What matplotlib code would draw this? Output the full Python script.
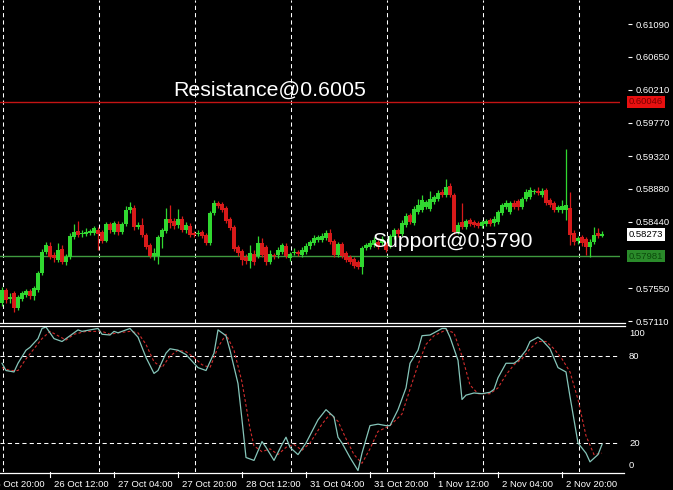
import numpy as np
import matplotlib
matplotlib.use('Agg')
import matplotlib.pyplot as plt
from matplotlib.lines import Line2D
from matplotlib.transforms import blended_transform_factory as btf

plt.rcParams['font.family'] = ['Liberation Sans', 'DejaVu Sans']

# ---------------- data ----------------
opens = [0.57352, 0.57526, 0.57405, 0.57486, 0.57285, 0.57405, 0.57459, 0.57513, 0.57446, 0.57526,
         0.57754, 0.58035, 0.58116, 0.57995, 0.57928, 0.58075, 0.57901, 0.57968, 0.58236, 0.58317,
         0.58276, 0.58276, 0.58290, 0.58290, 0.58330, 0.58303, 0.58183, 0.58410, 0.58303, 0.58410,
         0.58303, 0.58410, 0.58598, 0.58625, 0.58370, 0.58397, 0.58263, 0.58129, 0.57982, 0.57982,
         0.58236, 0.58317, 0.58477, 0.58451, 0.58397, 0.58477, 0.58330, 0.58384, 0.58290, 0.58276,
         0.58303, 0.58263, 0.58156, 0.58558, 0.58692, 0.58678, 0.58625, 0.58477, 0.58370, 0.58102,
         0.58049, 0.57968, 0.57915, 0.58008, 0.57982, 0.58156, 0.58102, 0.57901, 0.57995, 0.57995,
         0.58035, 0.58116, 0.57955, 0.58022, 0.58035, 0.57995, 0.58035, 0.58116, 0.58156, 0.58196,
         0.58196, 0.58223, 0.58290, 0.58183, 0.57995, 0.58142, 0.58022, 0.57968, 0.57941, 0.57901,
         0.57834, 0.58089, 0.58102, 0.58129, 0.58169, 0.58156, 0.58129, 0.58116, 0.58236, 0.58330,
         0.58276, 0.58397, 0.58531, 0.58424, 0.58571, 0.58598, 0.58638, 0.58611, 0.58705, 0.58745,
         0.58839, 0.58799, 0.58920, 0.58799, 0.58303, 0.58437, 0.58370, 0.58464, 0.58437, 0.58424,
         0.58384, 0.58410, 0.58464, 0.58424, 0.58437, 0.58558, 0.58638, 0.58571, 0.58692, 0.58719,
         0.58638, 0.58745, 0.58772, 0.58839, 0.58853, 0.58799, 0.58866, 0.58732, 0.58692, 0.58598,
         0.58598, 0.58598, 0.58625, 0.58290, 0.58183, 0.58236, 0.58209, 0.58102, 0.58169, 0.58290,
         0.58250]
highs = [0.57567, 0.57553, 0.57486, 0.57513, 0.57459, 0.57513, 0.57540, 0.57540, 0.57580, 0.57781,
         0.58075, 0.58169, 0.58169, 0.58035, 0.58156, 0.58129, 0.58008, 0.58290, 0.58410, 0.58451,
         0.58330, 0.58357, 0.58343, 0.58384, 0.58370, 0.58330, 0.58437, 0.58437, 0.58451, 0.58451,
         0.58437, 0.58652, 0.58705, 0.58665, 0.58437, 0.58491, 0.58290, 0.58156, 0.58089, 0.58263,
         0.58357, 0.58625, 0.58665, 0.58491, 0.58611, 0.58518, 0.58437, 0.58424, 0.58317, 0.58330,
         0.58330, 0.58290, 0.58585, 0.58732, 0.58719, 0.58705, 0.58652, 0.58504, 0.58397, 0.58129,
         0.58075, 0.58008, 0.58129, 0.58062, 0.58250, 0.58223, 0.58129, 0.58062, 0.58022, 0.58102,
         0.58156, 0.58156, 0.58035, 0.58089, 0.58062, 0.58102, 0.58156, 0.58196, 0.58263, 0.58263,
         0.58290, 0.58330, 0.58343, 0.58209, 0.58169, 0.58169, 0.58049, 0.57995, 0.57968, 0.57928,
         0.58116, 0.58156, 0.58196, 0.58236, 0.58196, 0.58250, 0.58169, 0.58276, 0.58357, 0.58357,
         0.58464, 0.58558, 0.58558, 0.58652, 0.58745, 0.58799, 0.58732, 0.58853, 0.58799, 0.58866,
         0.58879, 0.59013, 0.58960, 0.58826, 0.58437, 0.58692, 0.58477, 0.58491, 0.58464, 0.58451,
         0.58464, 0.58477, 0.58491, 0.58518, 0.58598, 0.58692, 0.58732, 0.58719, 0.58732, 0.58745,
         0.58772, 0.58879, 0.58906, 0.58879, 0.58906, 0.58893, 0.58893, 0.58759, 0.58719, 0.58665,
         0.58732, 0.59416, 0.58839, 0.58330, 0.58250, 0.58263, 0.58236, 0.58209, 0.58370, 0.58357,
         0.58317]
lows = [0.57312, 0.57352, 0.57352, 0.57231, 0.57258, 0.57379, 0.57432, 0.57405, 0.57392, 0.57499,
        0.57727, 0.58008, 0.57941, 0.57901, 0.57901, 0.57874, 0.57861, 0.57941, 0.58209, 0.58236,
        0.58236, 0.58250, 0.58263, 0.58263, 0.58062, 0.58156, 0.58169, 0.58290, 0.58276, 0.58263,
        0.58276, 0.58384, 0.58558, 0.58330, 0.58343, 0.58236, 0.58075, 0.57955, 0.57928, 0.57874,
        0.58089, 0.58290, 0.58357, 0.58343, 0.58357, 0.58303, 0.58290, 0.58236, 0.58236, 0.58250,
        0.58223, 0.58129, 0.58129, 0.58531, 0.58625, 0.58571, 0.58424, 0.58330, 0.58049, 0.57982,
        0.57861, 0.57874, 0.57821, 0.57861, 0.57955, 0.57968, 0.57861, 0.57874, 0.57941, 0.57955,
        0.58008, 0.57955, 0.57915, 0.57995, 0.57982, 0.57968, 0.58008, 0.58075, 0.58129, 0.58169,
        0.58169, 0.58196, 0.58142, 0.57968, 0.57968, 0.57955, 0.57901, 0.57874, 0.57821, 0.57807,
        0.57740, 0.58062, 0.58075, 0.58102, 0.58075, 0.58129, 0.58035, 0.58089, 0.58209, 0.58236,
        0.58250, 0.58370, 0.58410, 0.58397, 0.58544, 0.58571, 0.58611, 0.58585, 0.58678, 0.58719,
        0.58772, 0.58772, 0.58772, 0.58276, 0.58276, 0.58343, 0.58343, 0.58384, 0.58370, 0.58357,
        0.58357, 0.58384, 0.58384, 0.58384, 0.58410, 0.58531, 0.58611, 0.58544, 0.58611, 0.58598,
        0.58611, 0.58719, 0.58745, 0.58812, 0.58799, 0.58772, 0.58665, 0.58638, 0.58571, 0.58571,
        0.58558, 0.58464, 0.58129, 0.58129, 0.58142, 0.58116, 0.57995, 0.57968, 0.58142, 0.58223,
        0.58236]
closes = [0.57526, 0.57392, 0.57432, 0.57285, 0.57432, 0.57486, 0.57513, 0.57446, 0.57553, 0.57754,
          0.58035, 0.58129, 0.57968, 0.57955, 0.58062, 0.57901, 0.57968, 0.58250, 0.58303, 0.58263,
          0.58290, 0.58303, 0.58317, 0.58357, 0.58276, 0.58183, 0.58410, 0.58330, 0.58424, 0.58303,
          0.58410, 0.58598, 0.58638, 0.58370, 0.58397, 0.58263, 0.58102, 0.57982, 0.58022, 0.58236,
          0.58330, 0.58477, 0.58424, 0.58384, 0.58477, 0.58330, 0.58397, 0.58263, 0.58263, 0.58290,
          0.58250, 0.58156, 0.58558, 0.58692, 0.58652, 0.58598, 0.58451, 0.58357, 0.58075, 0.58022,
          0.57928, 0.57915, 0.58022, 0.57901, 0.58156, 0.57995, 0.57901, 0.58008, 0.57982, 0.58062,
          0.58129, 0.57982, 0.58008, 0.58035, 0.58008, 0.58062, 0.58116, 0.58169, 0.58223, 0.58236,
          0.58250, 0.58290, 0.58169, 0.57995, 0.58142, 0.57982, 0.57928, 0.57901, 0.57848, 0.57834,
          0.58089, 0.58129, 0.58156, 0.58196, 0.58102, 0.58209, 0.58062, 0.58250, 0.58330, 0.58276,
          0.58424, 0.58518, 0.58437, 0.58611, 0.58665, 0.58732, 0.58705, 0.58745, 0.58772, 0.58826,
          0.58799, 0.58906, 0.58799, 0.58303, 0.58397, 0.58370, 0.58451, 0.58410, 0.58397, 0.58384,
          0.58437, 0.58451, 0.58410, 0.58477, 0.58571, 0.58665, 0.58692, 0.58692, 0.58638, 0.58638,
          0.58745, 0.58839, 0.58866, 0.58853, 0.58826, 0.58853, 0.58692, 0.58665, 0.58598, 0.58638,
          0.58652, 0.58665, 0.58263, 0.58169, 0.58223, 0.58156, 0.58102, 0.58169, 0.58263, 0.58250,
          0.58273]

# Stochastic %K / %D (bar index, value)
k_bars = [0, 1, 3, 4, 6, 7, 9, 10, 11, 13, 15, 16, 19, 20, 24, 25, 27, 28, 29, 32,
          34, 36, 38, 39, 41, 42, 44, 46, 48, 49, 51, 53, 54, 56, 57, 59, 60, 61, 63, 65,
          66, 68, 70, 71, 72, 74, 76, 79, 81, 83, 84, 85, 87, 89, 90, 92, 94, 96, 97, 99,
          101, 102, 104, 105, 107, 108, 110, 111, 112, 114, 115, 116, 118, 120, 122, 123, 124, 126, 128, 129,
          131, 132, 134, 135, 137, 139, 141, 142, 144, 146, 147, 149, 150]
k_vals = [75, 70, 69, 75, 84, 86, 92, 99, 100, 92, 90, 92, 98, 97, 99, 95, 94.5, 97, 96, 99,
          93, 79, 68, 70, 82, 85, 84, 81, 75, 72, 70, 82, 98, 94, 84, 61, 36, 10, 8, 21,
          17, 8, 19, 24, 17, 12, 20, 36, 43, 38, 24, 20, 10, 1, 13, 32, 33, 32, 32, 43,
          58, 75, 84, 94, 94.5, 96, 99, 99, 93, 77, 50, 53, 54.5, 54, 55, 57, 65, 75, 75, 77,
          84, 90, 93, 91, 85, 72, 69, 52, 20, 13, 7, 12, 19]
d_bars = [0, 2, 4, 6, 8, 10, 12, 14, 16, 18, 21, 25, 27, 29, 32, 34, 36, 38, 40, 42,
          44, 46, 48, 50, 52, 54, 56, 58, 60, 62, 63, 65, 67, 69, 71, 73, 75, 77, 80, 82,
          84, 86, 88, 90, 92, 94, 97, 100, 102, 104, 106, 108, 111, 113, 115, 117, 119, 122, 124, 126,
          128, 130, 132, 134, 136, 138, 140, 142, 144, 146, 148, 150]
d_vals = [72, 70, 70, 78, 85, 92, 97, 94, 91, 95, 97, 97, 95, 96, 97, 96, 88, 76, 72, 80,
          84, 83, 79, 74, 72, 86, 95, 84, 62, 30, 18, 14, 16, 12, 17, 19, 15, 20, 33, 40,
          35, 23, 12, 6, 16, 28, 32, 40, 57, 74, 88, 94, 98, 96, 80, 60, 54, 54, 58, 67,
          74, 78, 85, 90, 90, 85, 78, 69, 50, 25, 12, 13]

price_ticks = [0.61090, 0.60650, 0.60210, 0.59770, 0.59320, 0.58880, 0.58440, 0.57550, 0.57110]
resistance = 0.60046
support = 0.57981
last_price = 0.58273
time_bars = [-4, 12, 28, 44, 60, 76, 92, 108, 124, 140]
time_labels = ['25 Oct 20:00', '26 Oct 12:00', '27 Oct 04:00', '27 Oct 20:00', '28 Oct 12:00',
               '31 Oct 04:00', '31 Oct 20:00', '1 Nov 12:00', '2 Nov 04:00', '2 Nov 20:00']
grid_bars = [0, 24, 48, 72, 96, 120, 144]
stoch_levels = [80, 20]

# ---------------- layout ----------------
W, H = 673, 490
fig = plt.figure(figsize=(W / 100, H / 100), dpi=100, facecolor='black')


def rect(l, t, r, b):
    return [l / W, 1 - b / H, (r - l) / W, (b - t) / H]


ax = fig.add_axes(rect(0, 0, 620, 323))
ax2 = fig.add_axes(rect(0, 326, 620, 472))
for a in (ax, ax2):
    a.set_facecolor('black')
    for s in a.spines.values():
        s.set_visible(False)
    a.set_xlim(-0.5, 154.5)
    a.set_xticks([])
ax.set_ylim(0.57084, 0.61412)
ax2.set_ylim(0, 100.7)
ax2.set_yticks([])

GREEN = '#30d830'
RED = '#d81a1a'
grid_kw = dict(color='white', lw=0.75, ls=(0, (4, 3)))

for gb in grid_bars:
    ax.axvline(gb + 0.2, **grid_kw, zorder=1)
    ax2.axvline(gb + 0.2, **grid_kw, zorder=1)

# candles
o = np.array(opens); h = np.array(highs); l = np.array(lows); c = np.array(closes)
idx = np.arange(len(o))
up = c >= o
cols = np.where(up, GREEN, RED)
ax.vlines(idx, l, h, colors=cols, lw=0.9, zorder=3)
body_lo = np.minimum(o, c)
body_h = np.maximum(np.abs(c - o), 0.00009)
ax.bar(idx, body_h, bottom=body_lo, width=0.76, color=cols, lw=0, zorder=4)

# horizontal levels
ax.axhline(resistance, color='#c41414', lw=1.0, zorder=2)
ax.axhline(support, color='#3f9a3f', lw=1.0, zorder=2)

ax.text(42.75, 0.60126, 'Resistance@0.6005', color='white', fontsize=15.4,
        va='baseline', ha='left', zorder=6)
ax.text(92.5, 0.58102, 'Support@0.5790', color='white', fontsize=15.2,
        va='baseline', ha='left', zorder=6)

# right price axis
ax.yaxis.tick_right()
ax.spines['right'].set_position(('outward', 6))
ax.set_yticks(price_ticks)
ax.set_yticklabels(['%.5f' % p for p in price_ticks])
ax.tick_params(axis='y', colors='white', length=3, width=0.8, pad=2, labelsize=6.8)

tr = btf(ax.transAxes, ax.transData)
tagx = 1 + 9 / 620
ax.text(tagx, resistance, '%.5f' % resistance, transform=tr, fontsize=6.8, color='#7a0000',
        va='center', ha='left', bbox=dict(boxstyle='square,pad=0.2', fc='#e81010', ec='none'), clip_on=False)
ax.text(tagx, last_price, '%.5f' % last_price, transform=tr, fontsize=6.8, color='black',
        va='center', ha='left', bbox=dict(boxstyle='square,pad=0.2', fc='white', ec='none'), clip_on=False)
ax.text(tagx, support, '%.5f' % support, transform=tr, fontsize=6.8, color='#0c4a0c',
        va='center', ha='left', bbox=dict(boxstyle='square,pad=0.2', fc='#2a8a2a', ec='none'), clip_on=False)

# stochastic panel
for lv in stoch_levels:
    ax2.axhline(lv, **grid_kw, zorder=1)
ax2.plot(k_bars, k_vals, color='#86c6ba', lw=0.9, zorder=4)
ax2.plot(d_bars, d_vals, color='#d02c2c', lw=0.8, ls=(0, (2.5, 2)), zorder=3)

for txt, ypx in (('100', 333), ('80', 356), ('20', 443), ('0', 465)):
    fig.text(629 / W, 1 - ypx / H, txt, color='white', fontsize=6.8, va='center', ha='left')

# separators / frame lines
for ypx in (323, 326):
    fig.add_artist(Line2D([0, 625 / W], [1 - ypx / H] * 2, color='white', lw=0.9))
fig.add_artist(Line2D([0, 624 / W], [1 - 472.5 / H] * 2, color='white', lw=0.9))

# time axis
tr2 = btf(ax2.transData, ax2.transAxes)
for tb, lab in zip(time_bars, time_labels):
    ax2.plot([tb, tb], [0, -5 / 146], color='white', lw=0.8, transform=tr2, clip_on=False)
    ax2.text(tb + 0.9, -12.5 / 146, lab, color='white', fontsize=6.8, va='center', ha='left',
             transform=tr2, clip_on=False)

fig.savefig('out.png', dpi=100, facecolor='black')
